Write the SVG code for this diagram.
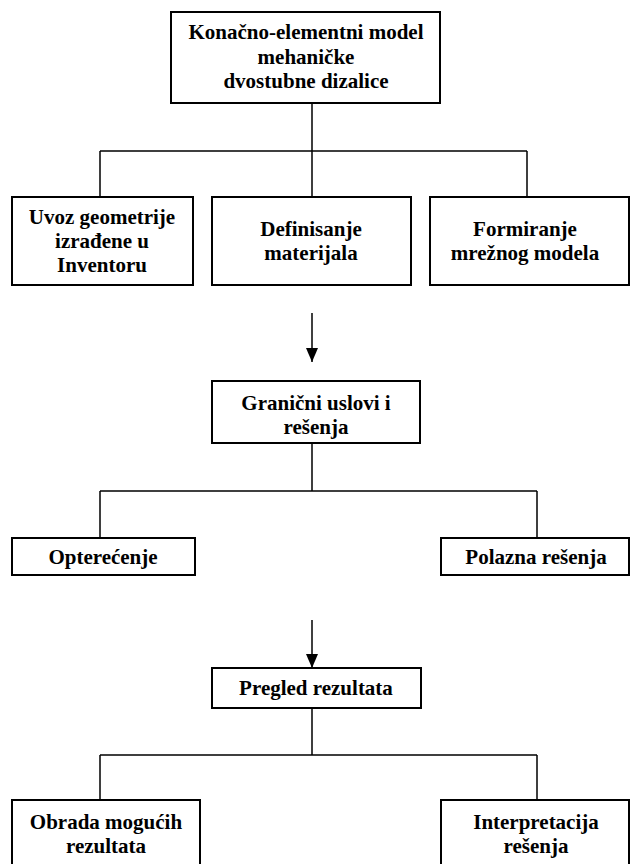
<svg xmlns="http://www.w3.org/2000/svg" width="630" height="864" viewBox="0 0 630 864">
<defs>
<style>
.box{fill:#fff;stroke:#000;stroke-width:2}
.ln{fill:none;stroke:#000;stroke-width:1.5}
.t{font-family:"Liberation Serif","Times New Roman",serif;font-weight:bold;font-size:21px;text-anchor:middle;fill:#000}
</style>
<marker id="arr" markerWidth="12" markerHeight="14" refX="6" refY="14" orient="0" markerUnits="userSpaceOnUse">
<path d="M0,0 L12,0 L6,14 Z" fill="#000"/>
</marker>
</defs>
<g id="connectors">
<path class="ln" d="M312,103 V151 M100,151 H527 M100,151 V197 M312,151 V197 M527,151 V197"/>
<path class="ln" d="M312,313 V362" marker-end="url(#arr)"/>
<path class="ln" d="M312,443 V491 M100,491 H537 M100,491 V538 M537,491 V538"/>
<path class="ln" d="M312,620 V668" marker-end="url(#arr)"/>
<path class="ln" d="M312,708 V755 M100,755 H537 M100,755 V800 M537,755 V800"/>
</g>
<g id="n-root" class="t">
<rect class="box" x="171" y="12" width="269" height="91"/>
<text x="306" y="39">Konačno-elementni model</text>
<text x="306" y="63.5">mehaničke</text>
<text x="306" y="88">dvostubne dizalice</text>
</g>
<g id="n-uvoz" class="t">
<rect class="box" x="12" y="197" width="181" height="88"/>
<text x="102" y="224">Uvoz geometrije</text>
<text x="102" y="248">izrađene u</text>
<text x="102" y="272">Inventoru</text>
</g>
<g id="n-def" class="t">
<rect class="box" x="212" y="197" width="199" height="88"/>
<text x="311" y="236">Definisanje</text>
<text x="311" y="260">materijala</text>
</g>
<g id="n-form" class="t">
<rect class="box" x="430" y="197" width="199" height="88"/>
<text x="525" y="236">Formiranje</text>
<text x="525" y="260">mrežnog modela</text>
</g>
<g id="n-gran" class="t">
<rect class="box" x="212" y="381" width="208" height="62"/>
<text x="316" y="410">Granični uslovi i</text>
<text x="316" y="434">rešenja</text>
</g>
<g id="n-opt" class="t">
<rect class="box" x="12" y="538" width="183" height="37"/>
<text x="103" y="564">Opterećenje</text>
</g>
<g id="n-pol" class="t">
<rect class="box" x="441" y="538" width="188" height="37"/>
<text x="536" y="564">Polazna rešenja</text>
</g>
<g id="n-pregled" class="t">
<rect class="box" x="212" y="668" width="209" height="40"/>
<text x="316" y="695">Pregled rezultata</text>
</g>
<g id="n-obrada" class="t">
<rect class="box" x="12" y="800" width="188" height="70"/>
<text x="106" y="829">Obrada mogućih</text>
<text x="106" y="853">rezultata</text>
</g>
<g id="n-interp" class="t">
<rect class="box" x="441" y="800" width="188" height="70"/>
<text x="536" y="829">Interpretacija</text>
<text x="536" y="853">rešenja</text>
</g>
</svg>
